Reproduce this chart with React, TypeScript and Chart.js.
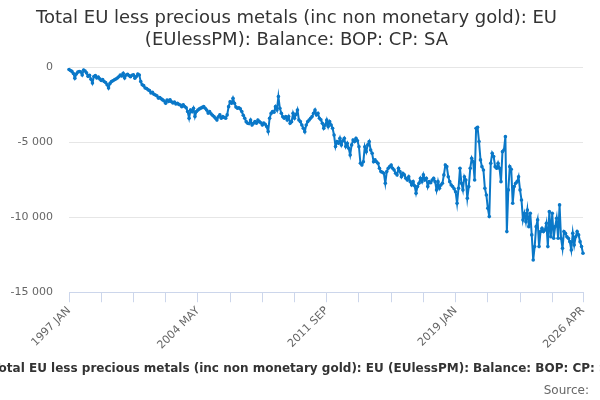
import { useEffect, useRef } from 'react';
import { Chart, registerables } from 'chart.js';

Chart.register(...registerables);

const TITLE_LINES = [
  'Total EU less precious metals (inc non monetary gold): EU',
  '(EUlessPM): Balance: BOP: CP: SA',
];
const LEGEND_TEXT =
  'Total EU less precious metals (inc non monetary gold): EU (EUlessPM): Balance: BOP: CP: SA';
const SOURCE_TEXT = 'Source:';

const MONTHS = ['JAN', 'FEB', 'MAR', 'APR', 'MAY', 'JUN', 'JUL', 'AUG', 'SEP', 'OCT', 'NOV', 'DEC'];
const START_YEAR = 1997;
const TICK_LABELS = ['1997 JAN', '2004 MAY', '2011 SEP', '2019 JAN', '2026 APR'];
const TICK_STEP = 22;

const VALUES = [
  // 1997
  -150, -220, -280, -420, -730, -450, -330, -290, -310, -520, -190, -260,
  // 1998
  -380, -610, -540, -800, -1060, -620, -560, -720, -650, -780, -880, -830,
  // 1999
  -950, -1020, -1170, -1390, -1080, -960, -900, -840, -790, -720, -640, -520,
  // 2000
  -590, -410, -720, -520, -480, -560, -630, -540, -500, -730, -620, -450,
  // 2001
  -520, -960, -1170, -1230, -1390, -1420, -1510, -1560, -1720, -1680, -1800, -1850,
  // 2002
  -1900, -2060, -2030, -2110, -2180, -2250, -2400, -2190, -2280, -2170, -2300, -2390,
  // 2003
  -2330, -2450, -2400, -2480, -2520, -2630, -2500, -2620, -2700, -2960, -3400, -2850,
  // 2004
  -2970, -2740, -3290, -2960, -2860, -2780, -2730, -2680, -2630, -2740, -2850, -3060,
  // 2005
  -2960, -3100, -3200, -3290, -3400, -3520, -3300, -3180, -3400, -3290, -3350, -3400,
  // 2006
  -3180, -2630, -2300, -2400, -2070, -2400, -2650, -2740, -2700, -2780, -2960, -3200,
  // 2007
  -3400, -3630, -3735, -3760, -3520, -3850, -3740, -3620, -3730, -3520, -3630, -3700,
  // 2008
  -3850, -3730, -3800, -3960, -4290, -3400, -3080, -2960, -3000, -2630, -2850, -1960,
  // 2009
  -2740, -3070, -3300, -3400, -3290, -3520, -3290, -3740, -3630, -3070, -3400, -3150,
  // 2010
  -2850, -3520, -3630, -3850, -4070, -4300, -3850, -3630, -3520, -3400, -3290, -3070,
  // 2011
  -2850, -3180, -3070, -3400, -3500, -3740, -4070, -3850, -3520, -3960, -3630, -3850,
  // 2012
  -4070, -4520, -5290, -4960, -5070, -4740, -5180, -4900, -4740, -5290, -5070, -5400,
  // 2013
  -5850, -5180, -4850, -4960, -4740, -4900, -5300, -6400, -6520, -6300, -5300, -5630,
  // 2014
  -5180, -4960, -5520, -5740, -6300, -6180, -6300, -6400, -6740, -6960, -7000, -7070,
  // 2015
  -7740, -6960, -6740, -6630, -6520, -6740, -6850, -7070, -7180, -6740, -6960, -7300,
  // 2016
  -7070, -7180, -7400, -7520, -7300, -7630, -7850, -7630, -7900, -8400, -7960, -7740,
  // 2017
  -7400, -7630, -7180, -7520, -7400, -7960, -7630, -7700, -7520, -7400, -7630, -8180,
  // 2018
  -7630, -8070, -7850, -7740, -7180, -6520, -6630, -7300, -7630, -7850, -7960, -8100,
  // 2019
  -8300, -9070, -8070, -6740, -7740, -8180, -7300, -7520, -8740, -7960, -6740, -6070,
  // 2020
  -6300, -7520, -4070, -4000, -4960, -6180, -6630, -6850, -8070, -8520, -9400, -9960,
  // 2021
  -6400, -5740, -5960, -6630, -6740, -6400, -6740, -7630, -5630, -5520, -4630, -10960,
  // 2022
  -8180, -6630, -6800, -9070, -7960, -7740, -7630, -7300, -8180, -8850, -10180, -9740,
  // 2023
  -10300, -9520, -10630, -9740, -11180, -12850, -11960, -10630, -10180, -11960, -10960, -10740,
  // 2024
  -10960, -10850, -10400, -11960, -9630, -11300, -9740, -11400, -10630, -10070, -11400, -9180,
  // 2025
  -11400, -12070, -10960, -11070, -11300, -11400, -11630, -12180, -11070, -11850, -11300, -10960,
  // 2026
  -11180, -11630, -11960, -12400,
];

const CATEGORIES = VALUES.map(
  (_, i) => `${START_YEAR + Math.floor(i / 12)} ${MONTHS[i % 12]}`
);

const FONT = '"DejaVu Sans", Verdana, sans-serif';
const LINE_COLOR = '#0a78c8';

function fmt(v: number): string {
  const s = String(Math.abs(v)).replace(/\B(?=(\d{3})+(?!\d))/g, ' ');
  return v < 0 ? '-' + s : s;
}

const bottomText = {
  id: 'bottomText',
  afterDraw(chart: any) {
    const ctx = chart.ctx as CanvasRenderingContext2D;
    ctx.save();
    ctx.font = `bold 12px ${FONT}`;
    ctx.fillStyle = '#333333';
    ctx.textBaseline = 'middle';
    ctx.textAlign = 'left';
    const w = ctx.measureText(LEGEND_TEXT).width;
    const itemW = 21 + w;
    const x0 = chart.width / 2 - itemW / 2 + 15;
    ctx.fillText(LEGEND_TEXT, x0, 369);
    ctx.font = `12px ${FONT}`;
    ctx.fillStyle = '#666666';
    ctx.textAlign = 'right';
    ctx.fillText(SOURCE_TEXT, 589, 391);
    ctx.restore();
  },
};

export default function App() {
  const ref = useRef<HTMLCanvasElement>(null);
  useEffect(() => {
    if (!ref.current) return;
    const chart = new Chart(ref.current, {
      type: 'line',
      data: {
        labels: CATEGORIES,
        datasets: [
          {
            label: LEGEND_TEXT,
            data: VALUES,
            borderColor: LINE_COLOR,
            backgroundColor: LINE_COLOR,
            pointBackgroundColor: LINE_COLOR,
            pointBorderColor: LINE_COLOR,
            borderWidth: 2,
            pointRadius: 1.8,
            pointBorderWidth: 0,
            tension: 0,
          },
        ],
      },
      options: {
        responsive: false,
        animation: false,
        layout: { padding: { left: 10, right: 17, top: 0, bottom: 46 } },
        plugins: {
          legend: { display: false },
          tooltip: { enabled: false },
          title: {
            display: true,
            text: TITLE_LINES,
            color: '#333333',
            font: { family: FONT, size: 18, weight: 'normal', lineHeight: 1.2 },
            padding: { top: 8, bottom: 16 },
          },
        },
        scales: {
          x: {
            type: 'category',
            offset: false,
            grid: {
              display: true,
              drawOnChartArea: false,
              drawTicks: true,
              tickLength: 10,
              color: '#ccd6eb',
            },
            border: { display: true, color: '#ccd6eb' },
            ticks: {
              autoSkip: false,
              maxRotation: 45,
              minRotation: 45,
              padding: 2,
              color: '#666666',
              font: { family: FONT, size: 11 },
              callback(value: any) {
                const l = CATEGORIES[value as number];
                return TICK_LABELS.includes(l) ? l : '';
              },
            },
            afterBuildTicks(axis: any) {
              axis.ticks = axis.ticks.filter(
                (t: any) => t.value % TICK_STEP === 0 || t.value === VALUES.length - 1
              );
            },
            afterFit(axis: any) {
              axis.paddingLeft = 0;
              axis.paddingRight = 0;
            },
          },
          y: {
            min: -15000,
            max: 0,
            grid: { color: '#e6e6e6', drawTicks: false },
            border: { display: false },
            ticks: {
              stepSize: 5000,
              padding: 16,
              color: '#666666',
              font: { family: FONT, size: 11 },
              callback: (v: any) => fmt(Number(v)),
            },
            afterFit(axis: any) {
              axis.width = 59;
            },
          },
        },
      },
      plugins: [bottomText],
    });
    return () => chart.destroy();
  }, []);

  return (
    <div style={{ position: 'absolute', left: 0, top: 0, width: 600, height: 400 }}>
      <canvas ref={ref} width={600} height={400} style={{ width: 600, height: 400 }} />
    </div>
  );
}
